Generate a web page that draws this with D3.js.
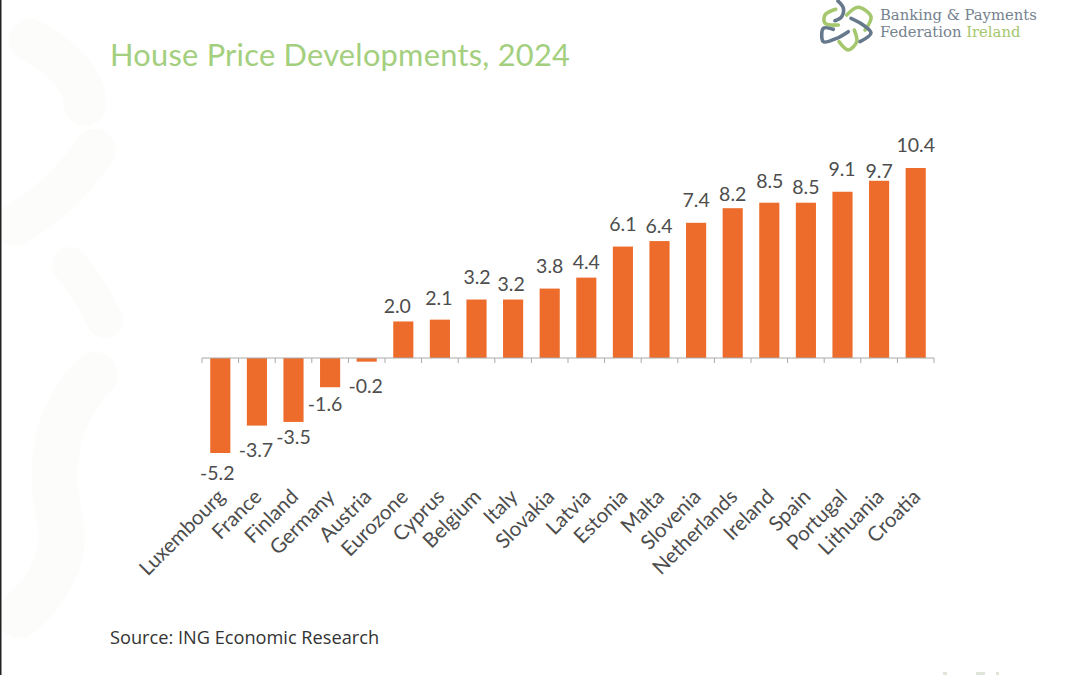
<!DOCTYPE html>
<html>
<head>
<meta charset="utf-8">
<script src="https://cdn.jsdelivr.net/npm/d3@7"></script>
<style>
  html, body { margin: 0; padding: 0; background: #fff; }
  svg { display: block; }
  text { font-family: Lato, "Open Sans", sans-serif; }
</style>
</head>
<body>
<div id="chart"></div>
<script>
const countries = ['Luxembourg', 'France', 'Finland', 'Germany', 'Austria', 'Eurozone', 'Cyprus',
    'Belgium', 'Italy', 'Slovakia', 'Latvia', 'Estonia', 'Malta', 'Slovenia', 'Netherlands',
    'Ireland', 'Spain', 'Portugal', 'Lithuania', 'Croatia'];
const changes = [-5.2, -3.7, -3.5, -1.6, -0.2, 2.0, 2.1, 3.2, 3.2, 3.8, 4.4, 6.1, 6.4, 7.4, 8.2,
    8.5, 8.5, 9.1, 9.7, 10.4];

const width = 1080, height = 675;
const margin = { left: 202, right: 934 };
const orange = '#ee6c2b', axisGrey = '#a9a9a9', textGrey = '#4d4d4d';

const svg = d3.select('#chart').append('svg')
    .attr('width', width)
    .attr('height', height);

svg.append('rect').attr('width', width).attr('height', height).attr('fill', '#fff');

// Faint slide watermark behind the chart
const watermark = svg.append('g').attr('fill', 'none').attr('stroke', '#fcfcfb').attr('stroke-linecap', 'round');
watermark.append('path').attr('stroke-width', 42).attr('d', 'M30,40 Q85,70 85,105');
watermark.append('path').attr('stroke-width', 42).attr('d', 'M95,150 Q60,200 15,225');
watermark.append('path').attr('stroke-width', 36).attr('d', 'M70,265 Q90,290 105,320');
watermark.append('path').attr('stroke-width', 46).attr('d', 'M95,375 Q40,430 60,520 Q70,570 20,615');

// Dark slide edge at the far left
svg.append('rect').attr('x', 0).attr('y', 0).attr('width', 1.5).attr('height', height).attr('fill', '#222');

svg.append('text')
    .attr('x', 110)
    .attr('y', 66)
    .attr('font-size', 30.8)
    .attr('letter-spacing', 0.25)
    .attr('fill', '#a3cf7e')
    .text('House Price Developments, 2024');

// Logo, six interlocking strokes
const green = '#a5c76e', slate = '#66788c';
const logoStrokes = [
    { color: green, points: [[835.7, 9.3], [825, 15], [825, 23.3], [838.3, 25]] },
    { color: green, points: [[846.7, 15], [858.3, 7.3], [871, 16.7], [865, 30]] },
    { color: green, points: [[839, 41.7], [848.3, 50], [856.7, 41.7], [854.3, 30]] },
    { color: slate, points: [[838, 1], [843.3, 8], [841.7, 16.7], [835, 20.7]] },
    { color: slate, points: [[851, 18.3], [861.7, 24], [871, 33], [860, 41.7]] },
    { color: slate, points: [[833.3, 29.3], [823.3, 28.3], [823.3, 41.7], [836.7, 38.3], [848.3, 31.7]] }
];
const logoLine = d3.line().curve(d3.curveCatmullRom);
svg.append('g')
    .attr('fill', 'none')
    .attr('stroke-width', 3.6)
    .attr('stroke-linecap', 'round')
    .selectAll('path')
    .data(logoStrokes)
    .join('path')
    .attr('d', d => logoLine(d.points))
    .attr('stroke', d => d.color);

const logoText = svg.append('text')
    .style('font-family', '"DejaVu Serif", serif')
    .attr('font-size', 14.8)
    .attr('fill', '#75828f');
logoText.append('tspan').attr('x', 880).attr('y', 20).text('Banking & Payments');
logoText.append('tspan').attr('x', 880).attr('y', 37).text('Federation ');
logoText.append('tspan').attr('fill', green).text('Ireland');

// Scales
const x = d3.scaleBand()
    .domain(countries)
    .range([margin.left, margin.right])
    .paddingInner(0.45)
    .paddingOuter(0.225);

const y = d3.scaleLinear()
    .domain([-5.2, 10.4])
    .range([453, 168]);

svg.selectAll('.bar')
    .data(countries)
    .join('rect')
    .attr('class', 'bar')
    .attr('x', d => x(d))
    .attr('width', x.bandwidth())
    .attr('y', (d, i) => Math.min(y(changes[i]), y(0)))
    .attr('height', (d, i) => Math.abs(y(changes[i]) - y(0)))
    .attr('fill', orange);

// Axis line with ticks pointing down at the band boundaries
const step = x.step();
const tickPositions = d3.range(countries.length + 1).map(i => margin.left + i * step);
svg.append('line')
    .attr('x1', margin.left).attr('x2', margin.right)
    .attr('y1', y(0)).attr('y2', y(0))
    .attr('stroke', axisGrey).attr('stroke-width', 1);
svg.selectAll('.tick-mark')
    .data(tickPositions)
    .join('line')
    .attr('class', 'tick-mark')
    .attr('x1', d => d).attr('x2', d => d)
    .attr('y1', y(0)).attr('y2', y(0) + 5)
    .attr('stroke', axisGrey).attr('stroke-width', 1);

// Value labels were dragged around by hand in the original: offset from the bar end [dx, dy]
const labelShift = [[-3, 27], [-1, 31.5], [0, 22], [-5, 24], [-1, 31],
    [-6, -8.5], [-1, -14.6], [0.5, -15.5], [-2, -8.5], [0, -15.6], [0, -8.6],
    [0, -15.6], [-0.5, -8], [0, -15.8], [0, -7.2], [0.5, -14.7], [0, -8.7],
    [-0.5, -15.7], [0, -2.8], [0, -16]];
svg.selectAll('.value')
    .data(countries)
    .join('text')
    .attr('class', 'value')
    .attr('text-anchor', 'middle')
    .attr('font-size', 19.5)
    .attr('fill', textGrey)
    .attr('x', (d, i) => x(d) + x.bandwidth() / 2 + labelShift[i][0])
    .attr('y', (d, i) => y(changes[i]) + labelShift[i][1])
    .text((d, i) => changes[i].toFixed(1));

// Rotated country names, end anchored under each band
svg.selectAll('.country')
    .data(countries)
    .join('text')
    .attr('class', 'country')
    .attr('text-anchor', 'end')
    .attr('font-size', 20.5)
    .attr('fill', textGrey)
    .attr('transform', d => `translate(${x(d) + x.bandwidth() / 2 + 6},${498}) rotate(-45)`)
    .text(d => d);

svg.append('text')
    .attr('x', 110)
    .attr('y', 644)
    .attr('font-size', 18.2)
    .attr('fill', '#333')
    .style('font-family', '"Open Sans", sans-serif')
    .text('Source: ING Economic Research');

// Tops of a cut off footer line at the bottom edge of the slide
svg.append('g')
    .attr('fill', '#dfe5d8')
    .selectAll('rect')
    .data([[943, 4], [976, 9], [996, 3]])
    .join('rect')
    .attr('x', d => d[0])
    .attr('y', 672)
    .attr('width', d => d[1])
    .attr('height', 3);
</script>
</body>
</html>
